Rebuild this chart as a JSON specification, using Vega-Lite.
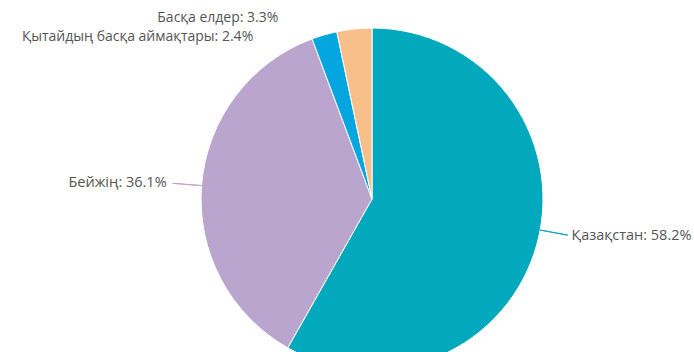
{
  "$schema": "https://vega.github.io/schema/vega-lite/v6.json",
  "width": 644,
  "height": 306,
  "autosize": {"type": "none"},
  "padding": {"left": 50, "top": 46, "right": 0, "bottom": 0},
  "background": "white",
  "view": {"stroke": null},
  "data": {
    "values": [
      {"idx": 1, "name": "Қазақстан", "value": 58.2},
      {"idx": 2, "name": "Бейжің", "value": 36.1},
      {"idx": 3, "name": "Қытайдың басқа аймақтары", "value": 2.4},
      {"idx": 4, "name": "Басқа елдер", "value": 3.3}
    ]
  },
  "transform": [
    {"stack": "value", "groupby": [], "sort": [{"field": "idx", "order": "ascending"}], "as": ["v0", "v1"]},
    {"calculate": "(datum.v0 + datum.v1) / 2", "as": "mid"},
    {"calculate": "datum.name + ': ' + format(datum.value, '.1f') + '%'", "as": "label"}
  ],
  "layer": [
    {
      "mark": {"type": "arc", "radius": 171, "stroke": "white", "strokeWidth": 1},
      "encoding": {
        "theta": {"field": "v0", "type": "quantitative", "scale": {"domain": [0, 100]}},
        "theta2": {"field": "v1"},
        "color": {
          "field": "name",
          "type": "nominal",
          "scale": {
            "domain": ["Қазақстан", "Бейжің", "Қытайдың басқа аймақтары", "Басқа елдер"],
            "range": ["#02A9BC", "#B9A5CE", "#03A6DE", "#F9BF8B"]
          },
          "legend": null
        }
      }
    },
    {
      "transform": [{"filter": "datum.idx == 1"}],
      "mark": {"type": "arc", "radius": 171, "radius2": 199, "thetaOffset": -0.075, "theta2Offset": -0.075, "stroke": "#02A9BC", "strokeWidth": 1, "fill": null},
      "encoding": {
        "theta": {"field": "mid", "type": "quantitative"},
        "theta2": {"field": "mid"}
      }
    },
    {
      "transform": [{"filter": "datum.idx == 2"}],
      "mark": {"type": "arc", "radius": 171, "radius2": 200, "stroke": "#B9A5CE", "strokeWidth": 1, "fill": null},
      "encoding": {
        "theta": {"field": "mid", "type": "quantitative"},
        "theta2": {"field": "mid"}
      }
    },
    {
      "transform": [{"filter": "datum.idx == 1"}],
      "mark": {"type": "text", "radius": 203, "thetaOffset": -0.075, "align": "left", "baseline": "middle", "font": "Open Sans", "fontSize": 14.5, "color": "#555555"},
      "encoding": {
        "theta": {"field": "mid", "type": "quantitative"},
        "text": {"field": "label"}
      }
    },
    {
      "transform": [{"filter": "datum.idx == 2"}],
      "mark": {"type": "text", "radius": 206, "align": "right", "baseline": "middle", "font": "Open Sans", "fontSize": 14.5, "color": "#555555"},
      "encoding": {
        "theta": {"field": "mid", "type": "quantitative"},
        "text": {"field": "label"}
      }
    },
    {
      "transform": [{"filter": "datum.idx == 3"}],
      "mark": {"type": "text", "radius": 200, "dx": -63, "dy": 30, "align": "right", "baseline": "middle", "font": "Open Sans", "fontSize": 14, "color": "#555555"},
      "encoding": {
        "theta": {"field": "mid", "type": "quantitative"},
        "text": {"field": "label"}
      }
    },
    {
      "transform": [{"filter": "datum.idx == 4"}],
      "mark": {"type": "text", "radius": 200, "dx": -73, "dy": 18, "align": "right", "baseline": "middle", "font": "Open Sans", "fontSize": 14, "color": "#555555"},
      "encoding": {
        "theta": {"field": "mid", "type": "quantitative"},
        "text": {"field": "label"}
      }
    }
  ]
}
